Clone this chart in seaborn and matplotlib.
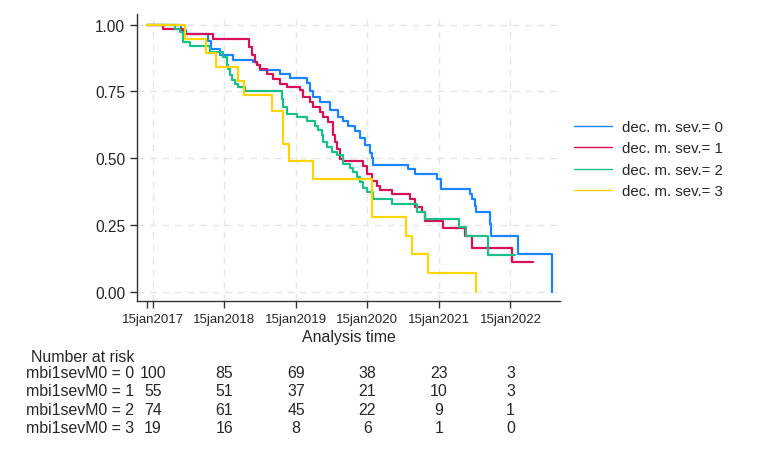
import matplotlib
matplotlib.use("Agg")
import matplotlib.pyplot as plt
from matplotlib import transforms
import numpy as np
import pandas as pd
import seaborn as sns

# Kaplan-Meier step data, analysis time in days since 15dec2016
t0 = [0, 174, 199, 312, 327, 373, 439, 541, 562, 577, 679, 730, 817, 833, 848, 884, 935, 976, 1001, 1027,
      1062, 1088, 1114, 1139, 1149, 1154, 1333, 1369, 1481, 1502, 1650, 1660, 1675, 1681, 1752, 1757, 1895, 2069]
s0 = [1.0, 0.98, 0.966, 0.94, 0.91, 0.885, 0.866, 0.86, 0.848, 0.829, 0.817, 0.80, 0.78, 0.75, 0.73, 0.71, 0.679, 0.655, 0.64, 0.622,
      0.60, 0.575, 0.55, 0.52, 0.50, 0.475, 0.46, 0.441, 0.422, 0.385, 0.366, 0.347, 0.32, 0.298, 0.254, 0.21, 0.141, 0.0]

t1 = [0, 82, 184, 337, 521, 536, 552, 562, 577, 613, 644, 679, 715, 782, 797, 833, 848, 884, 899, 925,
      950, 960, 971, 986, 1001, 1103, 1124, 1149, 1175, 1190, 1251, 1343, 1369, 1405, 1420, 1512, 1624, 1660, 1864, 1972]
s1 = [1.0, 0.982, 0.966, 0.945, 0.916, 0.885, 0.86, 0.848, 0.835, 0.816, 0.798, 0.779, 0.766, 0.754, 0.729, 0.71, 0.691, 0.673, 0.654, 0.635,
      0.585, 0.56, 0.535, 0.497, 0.488, 0.47, 0.441, 0.416, 0.397, 0.379, 0.366, 0.347, 0.318, 0.298, 0.266, 0.239, 0.21, 0.164, 0.111, 0.111]

t2 = [0, 143, 169, 184, 220, 322, 388, 409, 414, 424, 434, 450, 465, 501, 690, 695, 715, 766, 817, 858,
      873, 894, 899, 919, 945, 971, 1001, 1037, 1052, 1073, 1088, 1103, 1124, 1154, 1251, 1379, 1420, 1594, 1629, 1742, 1880]
s2 = [1.0, 0.985, 0.973, 0.935, 0.922, 0.898, 0.879, 0.85, 0.835, 0.81, 0.791, 0.779, 0.766, 0.75, 0.722, 0.69, 0.666, 0.654, 0.641, 0.622,
      0.604, 0.585, 0.56, 0.54, 0.523, 0.51, 0.479, 0.465, 0.449, 0.43, 0.41, 0.39, 0.373, 0.347, 0.329, 0.298, 0.273, 0.241, 0.21, 0.139, 0.139]

t3 = [0, 194, 301, 352, 465, 495, 639, 695, 725, 848, 1149, 1323, 1354, 1435, 1681]
s3 = [1.0, 0.947, 0.895, 0.842, 0.789, 0.737, 0.675, 0.554, 0.491, 0.422, 0.281, 0.21, 0.141, 0.07, 0.0]

groups = ["dec. m. sev.= 0", "dec. m. sev.= 1", "dec. m. sev.= 2", "dec. m. sev.= 3"]
colors = ["#1A85FF", "#D41159", "#1AC087", "#FFD400"]

origin = pd.Timestamp("2016-12-15")
tick_dates = pd.to_datetime(["2017-01-15", "2018-01-15", "2019-01-15",
                             "2020-01-15", "2021-01-15", "2022-01-15"])

risk_labels = ["mbi1sevM0 = 0", "mbi1sevM0 = 1", "mbi1sevM0 = 2", "mbi1sevM0 = 3"]
risk_0 = [100, 85, 69, 38, 23, 3]
risk_1 = [55, 51, 37, 21, 10, 3]
risk_2 = [74, 61, 45, 22, 9, 1]
risk_3 = [19, 16, 8, 6, 1, 0]

df = pd.concat([
    pd.DataFrame({"t": t, "s": s, "group": g})
    for t, s, g in zip([t0, t1, t2, t3], [s0, s1, s2, s3], groups)
])

sns.set_style("ticks")
plt.rcParams["font.family"] = ["Liberation Sans", "DejaVu Sans"]

W, H = 762, 456
fig = plt.figure(figsize=(W / 100, H / 100), dpi=100)
ax = fig.add_axes([137 / W, 1 - 302 / H, (560 - 137) / W, (302 - 15) / H])

sns.lineplot(data=df, x="t", y="s", hue="group", palette=colors,
             drawstyle="steps-post", estimator=None, sort=False,
             lw=1.6, ax=ax)

tick_days = [(d - origin).days for d in tick_dates]
ax.set_xticks(tick_days, [d.strftime("%d%b%Y").lower() for d in tick_dates])
ax.set_xticks([0], minor=True)
ax.set_yticks([0, 0.25, 0.5, 0.75, 1.0], ["0.00", "0.25", "0.50", "0.75", "1.00"])
ax.set_xlim(-51, 2110)
ax.set_ylim(-0.035, 1.04)

ax.grid(True, which="major", ls=(0, (5, 4)), color="#e6e6e6", lw=1)
ax.set_axisbelow(True)
ax.tick_params(axis="x", which="both", labelsize=9.5, length=5, width=1, color="#333333")
ax.tick_params(axis="y", labelsize=11.2, length=5, width=1, color="#333333")
sns.despine(ax=ax)
for side in ["left", "bottom"]:
    ax.spines[side].set_color("#333333")
    ax.spines[side].set_linewidth(1)

ax.set_xlabel("Analysis time", fontsize=11.4, labelpad=3)
ax.set_ylabel("")

sns.move_legend(ax, "center left", bbox_to_anchor=(568 / W, 1 - 160 / H),
                bbox_transform=fig.transFigure, borderaxespad=0,
                title=None, frameon=False, fontsize=10.8,
                handlelength=2.5, handletextpad=0.7, labelspacing=0.5)
for line in ax.get_legend().get_lines():
    line.set_linewidth(1.0)

# number-at-risk table
fig.text(31 / W, 1 - 357 / H, "Number at risk", fontsize=11.4, va="center")
trans = transforms.blended_transform_factory(ax.transData, fig.transFigure)
row_y = [374, 392, 410.5, 428.5]
for lab, row, y in zip(risk_labels, [risk_0, risk_1, risk_2, risk_3], row_y):
    fig.text(26 / W, 1 - y / H, lab, fontsize=11.4, va="center")
    for d, n in zip(tick_days, row):
        ax.text(d, 1 - y / H, str(n), transform=trans, ha="center", va="center",
                fontsize=11.4, clip_on=False)

fig.savefig("out.png", dpi=100)
